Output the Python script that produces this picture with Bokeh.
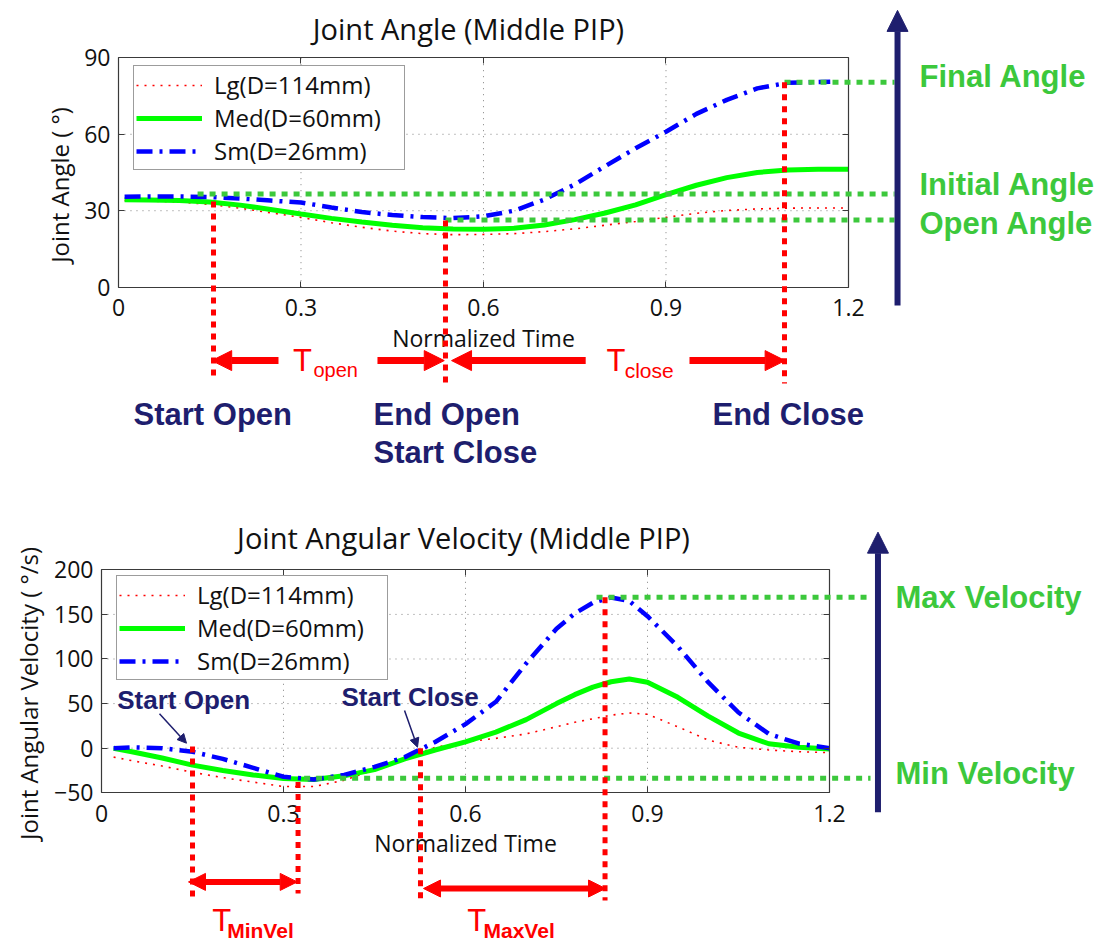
from bokeh.plotting import figure
from bokeh.layouts import column
from bokeh.models import (Arrow, NormalHead, Label, Legend, LegendItem, LinearAxis,
                          Range1d, FixedTicker, Grid)
from bokeh.embed import file_html
from bokeh.resources import INLINE

# ---------------- data ----------------
x_ticks = [0.0, 0.3, 0.6, 0.9, 1.2]
x_tick_labels = ["0", "0.3", "0.6", "0.9", "1.2"]
angle_ticks = [0, 30, 60, 90]
angle_tick_labels = ["0", "30", "60", "90"]
vel_ticks = [-50, 0, 50, 100, 150, 200]
vel_tick_labels = ["\u221250", "0", "50", "100", "150", "200"]
series_names = ["Lg(D=114mm)", "Med(D=60mm)", "Sm(D=26mm)"]

t_angle = [0.01, 0.05, 0.10, 0.15, 0.20, 0.25, 0.30, 0.35, 0.40, 0.45, 0.50, 0.55,
           0.60, 0.65, 0.70, 0.75, 0.80, 0.85, 0.90, 0.95, 1.00, 1.05, 1.10, 1.15, 1.20]
angle_lg = [34.0, 33.8, 33.4, 32.5, 31.0, 29.2, 27.4, 25.3, 23.5, 22.0, 21.0, 20.6,
            20.7, 21.0, 21.8, 22.9, 24.3, 25.8, 27.4, 29.0, 30.1, 30.7, 31.0, 31.1, 31.1]
angle_med = [34.3, 34.2, 34.0, 33.4, 32.2, 30.5, 28.7, 27.0, 25.6, 24.3, 23.3, 22.8,
             22.7, 23.1, 24.4, 26.5, 29.1, 32.3, 36.3, 40.0, 43.0, 45.0, 46.0, 46.3, 46.3]
t_angle_sm = [0.01, 0.05, 0.10, 0.15, 0.20, 0.25, 0.30, 0.35, 0.40, 0.45, 0.50, 0.55,
              0.60, 0.65, 0.70, 0.75, 0.80, 0.85, 0.90, 0.95, 1.00, 1.05, 1.10, 1.15, 1.17]
angle_sm = [35.5, 35.6, 35.6, 35.4, 34.8, 34.0, 33.2, 31.3, 29.5, 28.3, 27.5, 27.1,
            27.8, 30.0, 34.4, 40.3, 47.5, 54.5, 61.0, 68.0, 73.5, 78.0, 80.2, 80.5, 80.6]

t_vel = [0.02, 0.05, 0.10, 0.15, 0.20, 0.25, 0.30, 0.35, 0.40, 0.45, 0.50, 0.55, 0.60,
         0.65, 0.70, 0.75, 0.78, 0.81, 0.84, 0.87, 0.90, 0.95, 1.00, 1.05, 1.10, 1.15, 1.20]
vel_lg = [-10, -14, -20, -27, -33, -38, -43, -43, -36, -24, -11, 1, 7,
          11, 16, 24, 29, 33, 37, 39.5, 38, 24, 9, 1, -2, -4, -5]
vel_med = [0, -4, -11, -19, -25, -30, -34, -35, -31, -24, -12, -2, 7,
           18, 32, 50, 60, 68.5, 74.5, 77.5, 74, 57, 36, 17, 5, 1, -1]
vel_sm = [0, 1, 0, -4, -12, -22, -32, -35, -30, -21, -10, 7, 27,
          52, 95, 134, 151, 163, 169, 165, 148, 114, 74, 40, 16, 5, 0]

# event / level annotations
angle_event_names = ["Start Open", "End Open", "End Close"]
angle_event_times = [0.1562, 0.5375, 1.0948]
angle_event_values = [33.6, 26.2, 80.4]
angle_level_names = ["Final Angle", "Initial Angle", "Open Angle"]
angle_level_values = [80.4, 36.6, 26.4]
angle_level_starts = [1.0948, 0.13, 0.5375]

vel_event_times = [0.15, 0.324, 0.5258, 0.83]
vel_event_values = [2.0, -38.0, 0.0, 169.3]
vel_level_names = ["Max Velocity", "Min Velocity"]
vel_level_values = [169.3, -33.6]
vel_level_starts = [0.816, 0.334]

# ---------------- styles ----------------
FONT = "Open Sans"
BOLD = "Liberation Sans"
RED = "#ff0000"
GREEN = "#00ff00"
BLUE = "#0000ff"
ANN_GREEN = "#3cc83c"
NAVY = "#1e1e6e"
AX = "#3a3a3a"
W = 1106


def make_fig(height, xr, yr, xticks, xlabels, yticks, ylabels, ylabel, ylabel_standoff):
    p = figure(width=W, height=height, x_range=Range1d(*xr), y_range=Range1d(*yr),
               output_backend="svg", toolbar_location=None,
               x_axis_location=None, y_axis_location=None,
               min_border=0, min_border_left=0, min_border_right=0,
               min_border_top=0, min_border_bottom=0,
               background_fill_color="white", border_fill_color="white")
    p.center = [r for r in p.center if not isinstance(r, Grid)]
    p.title.text = ""
    p.title.visible = False
    p.outline_line_color = None
    x0, x1 = xticks[0], xticks[-1]
    y0, y1 = yticks[0], yticks[-1]

    # dotted grid drawn at the tick positions
    gx = xticks[1:-1]
    gy = yticks[1:-1]
    p.segment(x0=gx, y0=[y0] * len(gx), x1=gx, y1=[y1] * len(gx),
              line_color="#808080", line_dash="1 5", line_width=1)
    p.segment(x0=[x0] * len(gy), y0=gy, x1=[x1] * len(gy), y1=gy,
              line_color="#808080", line_dash="1 5", line_width=1)

    def style(ax, labels_on):
        ax.major_tick_in = 6
        ax.major_tick_out = 0
        ax.minor_tick_line_color = None
        ax.axis_line_color = AX
        ax.axis_line_width = 1.2
        ax.major_tick_line_color = AX
        ax.major_label_text_font = FONT
        ax.major_label_text_font_size = "23px"
        ax.major_label_text_color = "#111111" if labels_on else None
        ax.axis_label_text_font = FONT
        ax.axis_label_text_font_size = "23px"
        ax.axis_label_text_font_style = "normal"
        ax.axis_label_text_color = "#111111"

    xa = LinearAxis(ticker=FixedTicker(ticks=xticks), fixed_location=y0, bounds=(x0, x1),
                    axis_label="Normalized Time",
                    major_label_overrides={t: l for t, l in zip(xticks, xlabels)})
    style(xa, True)
    xa.major_label_standoff = 12
    xa.axis_label_standoff = 2
    p.add_layout(xa, "below")

    ya = LinearAxis(ticker=FixedTicker(ticks=yticks), fixed_location=x0, bounds=(y0, y1),
                    axis_label=ylabel,
                    major_label_overrides={t: l for t, l in zip(yticks, ylabels)})
    style(ya, True)
    ya.axis_label_text_font_size = "24px"
    ya.major_label_standoff = 8
    ya.axis_label_standoff = ylabel_standoff
    p.add_layout(ya, "left")

    ra = LinearAxis(ticker=FixedTicker(ticks=yticks), fixed_location=x1, bounds=(y0, y1),
                    major_label_overrides={t: "" for t in yticks})
    style(ra, False)
    p.add_layout(ra, "right")
    ta = LinearAxis(ticker=FixedTicker(ticks=xticks), fixed_location=y1, bounds=(x0, x1),
                    major_label_overrides={t: "" for t in xticks})
    style(ta, False)
    p.add_layout(ta, "above")
    return p


def add_series(p, tx, lg, med, tsm, sm, loc):
    r1 = p.line(tx, lg, line_color=RED, line_width=1.6, line_dash="2 6")
    r2 = p.line(tx, med, line_color=GREEN, line_width=5)
    r3 = p.line(tsm, sm, line_color=BLUE, line_width=4.5, line_dash="16 7 3 7")
    leg = Legend(items=[LegendItem(label=series_names[0], renderers=[r1]),
                        LegendItem(label=series_names[1], renderers=[r2]),
                        LegendItem(label=series_names[2], renderers=[r3])],
                 location=loc)
    leg.border_line_color = AX
    leg.border_line_width = 1.2
    leg.background_fill_color = "white"
    leg.background_fill_alpha = 1.0
    leg.label_text_font = FONT
    leg.label_text_font_size = "24px"
    leg.label_text_color = "#111111"
    leg.glyph_width = 66
    leg.glyph_height = 26
    leg.label_height = 26
    leg.label_width = 188
    leg.spacing = 0
    leg.padding = 2
    leg.margin = 0
    leg.label_standoff = 12
    p.add_layout(leg)


def seg(p, x0, y0, x1, y1, color, width, dash="solid", start=None, end=None):
    p.add_layout(Arrow(x_start=x0, y_start=y0, x_end=x1, y_end=y1,
                       line_color=color, line_width=width, line_dash=dash,
                       start=start, end=end))


def head(color, size):
    return NormalHead(size=size, fill_color=color, line_color=color, line_width=1)


def txt(p, x, y, text, color, size, font=BOLD, style="bold", align="left",
        baseline="middle"):
    p.add_layout(Label(x=x, y=y, text=text, text_color=color, text_font=font,
                       text_font_size=size, text_font_style=style,
                       text_align=align, text_baseline=baseline))


# ================= top panel: joint angle =================
top = make_fig(490, (-0.19397, 1.62411), (-79.76, 112.48), x_ticks, x_tick_labels,
               angle_ticks, angle_tick_labels, "Joint Angle (     \u00b0)", 5)
txt(top, 0.5753, 101.5, "Joint Angle (Middle PIP)", "#111111", "29px",
    font=FONT, style="normal", align="center")
add_series(top, t_angle, angle_lg, angle_med, t_angle_sm, angle_sm, (133, 320))

TOP_LINE_END = 1.2756
for lv, ls in zip(angle_level_values, angle_level_starts):
    seg(top, ls, lv, TOP_LINE_END, lv, ANN_GREEN, 5, "6 6")
for tt, tv, yb in zip(angle_event_times, angle_event_values, [-36.6, -38.6, -37.8]):
    seg(top, tt, tv, tt, yb, RED, 5, "6 6")

# navy vertical arrow
seg(top, 1.2806, -7.2, 1.2806, 108.6, NAVY, 6, end=head(NAVY, 21))

# green level labels
for name, yy in zip(angle_level_names, [82.6, 40.2, 24.9]):
    txt(top, 1.3167, yy, name, ANN_GREEN, "31px")

# T_open / T_close arrows
ARR_Y = -28.8
seg(top, 0.263, ARR_Y, angle_event_times[0] - 0.003, ARR_Y, RED, 7, end=head(RED, 20))
seg(top, 0.4257, ARR_Y, angle_event_times[1] - 0.002, ARR_Y, RED, 7, end=head(RED, 20))
seg(top, 0.768, ARR_Y, angle_event_times[1] + 0.01, ARR_Y, RED, 7, end=head(RED, 20))
seg(top, 0.9386, ARR_Y, angle_event_times[2] + 0.001, ARR_Y, RED, 7, end=head(RED, 20))
txt(top, 0.287, -28.7, "T", RED, "31px", style="normal")
txt(top, 0.3205, -32.6, "open", RED, "20px", style="normal")
txt(top, 0.8022, -28.7, "T", RED, "31px", style="normal")
txt(top, 0.832, -32.8, "close", RED, "21px", style="normal")

# navy event labels
txt(top, 0.0247, -50.0, angle_event_names[0], NAVY, "31px")
txt(top, 0.4192, -50.0, angle_event_names[1], NAVY, "31px")
txt(top, 0.4192, -64.7, "Start Close", NAVY, "31px")
txt(top, 0.9764, -50.0, angle_event_names[2], NAVY, "31px")

# ================= bottom panel: angular velocity =================
bot = make_fig(455, (-0.16648, 1.65659), (-221.2, 288.9), x_ticks, x_tick_labels,
               vel_ticks, vel_tick_labels, "Joint Angular Velocity (     \u00b0/s)", 6)
txt(bot, 0.5967, 236.5, "Joint Angular Velocity (Middle PIP)", "#111111", "29px",
    font=FONT, style="normal", align="center")
add_series(bot, t_vel, vel_lg, vel_med, t_vel, vel_sm, (116, 265))

BOT_LINE_END = 1.2676
for lv, ls in zip(vel_level_values, vel_level_starts):
    seg(bot, ls, lv, BOT_LINE_END, lv, ANN_GREEN, 5, "6 6")
for tt, tv, yb in zip(vel_event_times, vel_event_values, [-170.7, -162.8, -173.0, -170.7]):
    seg(bot, tt, tv, tt, yb, RED, 5, "6 6")

seg(bot, 1.2799, -71.7, 1.2799, 242.2, NAVY, 6, end=head(NAVY, 21))
txt(bot, 1.3088, 168.9, vel_level_names[0], ANN_GREEN, "31px")
txt(bot, 1.3088, -28.1, vel_level_names[1], ANN_GREEN, "31px")

# inner labels with pointers
txt(bot, 0.026, 54.4, "Start Open", NAVY, "26px")
seg(bot, 0.0956, 38.6, 0.1401, 5.6, NAVY, 1.5, end=head(NAVY, 9))
txt(bot, 0.3956, 57.6, "Start Close", NAVY, "26px")
seg(bot, 0.4995, 42.3, 0.5209, 1.1, NAVY, 1.5, end=head(NAVY, 9))

# double arrows
seg(bot, 0.1434, -149.9, 0.3226, -149.9, RED, 6, start=head(RED, 17), end=head(RED, 17))
seg(bot, 0.5308, -157.3, 0.8308, -157.3, RED, 6, start=head(RED, 17), end=head(RED, 17))
txt(bot, 0.1825, -193.2, "T", RED, "31px", style="normal")
txt(bot, 0.2072, -204.9, "MinVel", RED, "21px")
txt(bot, 0.6028, -193.2, "T", RED, "31px", style="normal")
txt(bot, 0.6297, -204.9, "MaxVel", RED, "21px")

layout = column(top, bot, spacing=0)
open("out.html", "w").write(file_html(layout, INLINE))
